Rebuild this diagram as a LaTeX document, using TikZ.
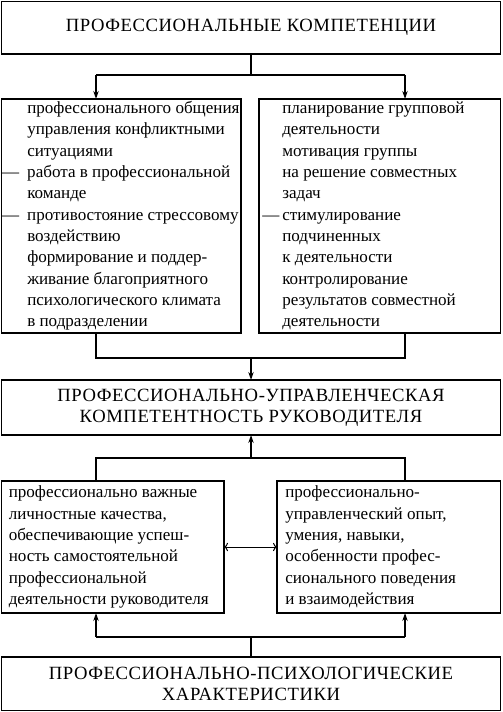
\documentclass[tikz,border=0pt]{standalone}
\usepackage{fontspec}
\setmainfont{Liberation Serif}
\newfontfamily\kcaps[LetterSpace=3]{Liberation Serif}
\usetikzlibrary{arrows.meta, positioning, calc}
\tikzset{
  kbox/.style = {draw=black, line width=1.4pt, inner sep=0pt, outer sep=0pt},
  khead/.style = {kbox, font=\kcaps\fontsize{14}{15.75}\selectfont, align=center},
  ktxt/.style = {font=\fontsize{12.8}{16}\selectfont, align=left, inner sep=0pt,
    anchor=west},
  klig/.style = {draw=black, line width=1.4pt},
  kseta/.style = {klig, -{Stealth[length=6pt, width=4pt]}},
  kdup/.style = {draw=black, line width=0.75pt, {To[length=3pt]}-{To[length=3pt]}}
}
\newcommand{\kD}[1][18.75pt]{\llap{\makebox[#1][l]{—}}}

\begin{document}
\begin{tikzpicture}[x=0.75pt, y=-0.75pt]
  \useasboundingbox (0,0) rectangle (502,712);
  \node [khead, minimum width=374.25pt, minimum height=39.4pt] (top) at (251,27.75)
    {ПРОФЕССИОНАЛЬНЫЕ КОМПЕТЕНЦИИ};
  \node [kbox, minimum width=179.6pt, minimum height=175.5pt] (ml) at (121.25,216) {};
  \node [kbox, minimum width=181.1pt, minimum height=175.5pt] (mr) at (379.75,216) {};
  \node [ktxt] (mlt) at ([xshift=19.1pt] ml.west) {профессионального общения\\
    управления конфликтными\\ ситуациями\\
    \kD работа в профессиональной\\ команде\\
    \kD противостояние стрессовому\\ воздействию\\
    формирование и поддер-\\ живание благоприятного\\
    психологического климата\\ в подразделении};
  \node [ktxt] (mrt) at ([xshift=17.25pt] mr.west) {планирование групповой\\
    деятельности\\ мотивация группы\\ на решение совместных\\ задач\\
    \kD[15pt]стимулирование\\ подчиненных\\ к деятельности\\
    контролирование\\ результатов совместной\\ деятельности};
  \node [khead, minimum width=374.25pt, minimum height=41.25pt] (mid) at (251,407.5)
    {ПРОФЕССИОНАЛЬНО-УПРАВЛЕНЧЕСКАЯ\\ КОМПЕТЕНТНОСТЬ РУКОВОДИТЕЛЯ};
  \node [kbox, minimum width=166.9pt, minimum height=99pt] (ll) at (112.75,547) {};
  \node [kbox, minimum width=167.6pt, minimum height=99pt] (lr) at (388.75,547) {};
  \node [ktxt] (llt) at ([xshift=5.25pt] ll.west) {профессионально важные\\
    личностные качества,\\ обеспечивающие успеш-\\ ность самостоятельной\\
    профессиональной\\ деятельности руководителя};
  \node [ktxt] (lrt) at ([xshift=6pt] lr.west) {профессионально-\\
    управленческий опыт,\\ умения, навыки,\\ особенности профес-\\
    сионального поведения\\ и взаимодействия};
  \node [khead, minimum width=374.25pt, minimum height=40.1pt] (bot) at (251,683.75)
    {ПРОФЕССИОНАЛЬНО-ПСИХОЛОГИЧЕСКИЕ\\ ХАРАКТЕРИСТИКИ};
  \coordinate (aL) at (96,75);
  \coordinate (aR) at (405,75);
  \coordinate (bL) at (96,358);
  \coordinate (bR) at (405,358);
  \coordinate (cL) at (96,458);
  \coordinate (cR) at (405,458);
  \coordinate (dL) at (96,637);
  \coordinate (dR) at (405,637);
  \draw [klig] (top.south) -- (top.south |- aL);
  \draw [klig] (aL) -- (aR);
  \draw [kseta] (aL) -- (aL |- ml.north);
  \draw [kseta] (aR) -- (aR |- mr.north);
  \draw [klig] (bL |- ml.south) -- (bL) -- (bR) -- (bR |- mr.south);
  \draw [kseta] (mid.north |- bL) -- (mid.north);
  \draw [klig] (cL |- ll.north) -- (cL) -- (cR) -- (cR |- lr.north);
  \draw [kseta] (mid.south |- cL) -- (mid.south);
  \draw [klig] (bot.north) -- (bot.north |- dL);
  \draw [klig] (dL) -- (dR);
  \draw [kseta] (dL) -- (dL |- ll.south);
  \draw [kseta] (dR) -- (dR |- lr.south);
  \draw [kdup] (ll.east) -- (lr.west);
\end{tikzpicture}
\end{document}
